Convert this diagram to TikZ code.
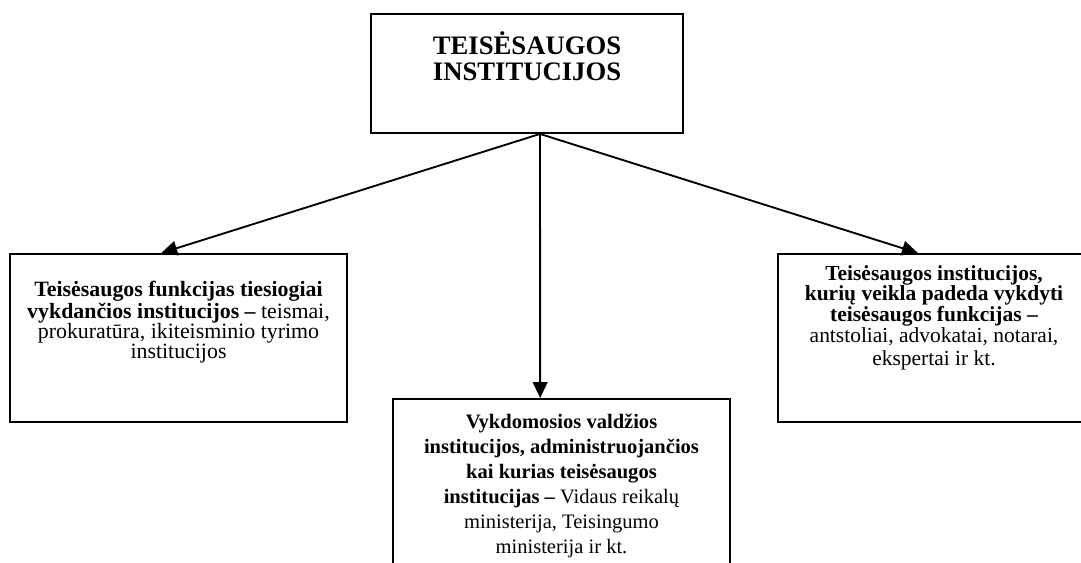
\documentclass[tikz,border=0pt]{standalone}
\usepackage{fontspec}
\setmainfont{Liberation Serif}
\usetikzlibrary{arrows.meta}

\begin{document}
\begin{tikzpicture}[x=0.75pt,y=-0.75pt,
  box/.style={draw,line width=1.4pt,inner sep=0pt},
  >={Triangle[length=12pt,width=11pt]},
  arr/.style={->,line width=1.4pt}]
  \useasboundingbox (0,0) rectangle (1081,562);
  % boxes
  \node[box] (top) at (527,73.5) {\parbox[c][89.25pt][t]{234pt}{\centering\fontsize{20}{19.5}\selectfont\bfseries
    \vspace*{13pt}TEISĖSAUGOS\\INSTITUCIJOS}};
  \node[box] (left) at (178.5,338) {\parbox[c][126pt][t]{252.75pt}{\centering\fontsize{16.4}{15}\selectfont
    \vspace*{20.5pt}\textbf{Teisėsaugos funkcijas tiesiogiai}\\
    \textbf{vykdančios institucijos –} teismai,\\
    prokuratūra, ikiteisminio tyrimo\\
    institucijos}};
  \node[box] (right) at (934,338) {\parbox[c][126pt][t]{234pt}{\centering\fontsize{16.1}{15.5}\selectfont
    \vspace*{8.5pt}\textbf{Teisėsaugos institucijos,}\\
    \textbf{kurių veikla padeda vykdyti}\\
    \textbf{teisėsaugos funkcijas –}\\
    antstoliai, advokatai, notarai,\\[2pt]
    ekspertai ir kt.}};
  \node[box] (mid) at (561.5,492) {\parbox[c][139.5pt][t]{252.75pt}{\centering\fontsize{15.4}{18.8}\selectfont
    \vspace*{11pt}\textbf{Vykdomosios valdžios}\\
    \textbf{institucijos, administruojančios}\\
    \textbf{kai kurias teisėsaugos}\\
    \textbf{institucijas –} Vidaus reikalų\\
    ministerija, Teisingumo\\
    ministerija ir kt.}};
  % arrows
  \coordinate (fork) at ([xshift=9.75pt]top.south);
  \draw[arr] (fork) -- ([xshift=-13pt]left.north);
  \draw[arr] (fork) -- ([xshift=-16pt]mid.north);
  \draw[arr] (fork) -- ([xshift=-12pt]right.north);
\end{tikzpicture}
\end{document}
